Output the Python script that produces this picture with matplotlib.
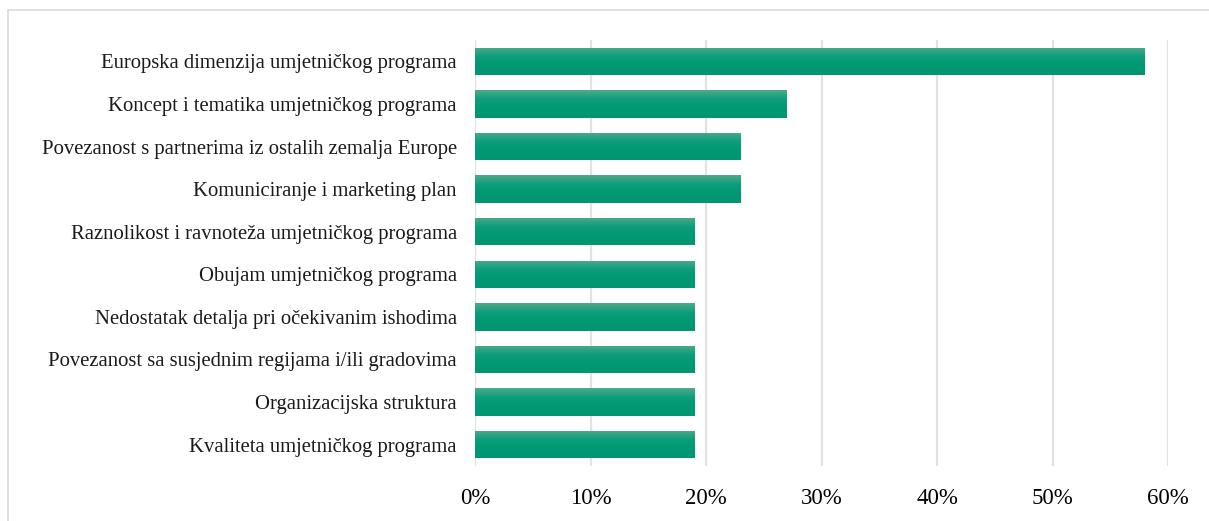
import numpy as np
import matplotlib
matplotlib.use("Agg")
import matplotlib.pyplot as plt
from matplotlib.colors import LinearSegmentedColormap
from matplotlib.patches import Rectangle

# podaci (odozdo prema gore)
kategorije = [
    "Kvaliteta umjetničkog programa",
    "Organizacijska struktura",
    "Povezanost sa susjednim regijama i/ili gradovima",
    "Nedostatak detalja pri očekivanim ishodima",
    "Obujam umjetničkog programa",
    "Raznolikost i ravnoteža umjetničkog programa",
    "Komuniciranje i marketing plan",
    "Povezanost s partnerima iz ostalih zemalja Europe",
    "Koncept i tematika umjetničkog programa",
    "Europska dimenzija umjetničkog programa",
]
vrijednosti = [19, 19, 19, 19, 19, 19, 23, 23, 27, 58]
x_oznake = ["0%", "10%", "20%", "30%", "40%", "50%", "60%"]

plt.rcParams['font.family'] = ['Liberation Serif', 'DejaVu Serif']

fig = plt.figure(figsize=(12.09, 5.21), dpi=100)
ax = fig.add_axes([0.3929, 0.1056, 0.9661 - 0.3929, 0.9232 - 0.1056])

# okvir oko grafikona
fig.patches.append(Rectangle((8 / 1209, -0.05), 1.2, 1 - 10 / 521 + 0.05,
                             transform=fig.transFigure, fill=False,
                             edgecolor="#d9dcdb", linewidth=1.2))

y = np.arange(len(kategorije))
bars = ax.barh(y, vrijednosti, height=0.64, color="#009a76", zorder=2)

# gradijent na stupcima (svjetliji gore)
cmap = LinearSegmentedColormap.from_list("g", ["#4caa8b", "#0c9e7a", "#009874", "#009672"])
grad = np.linspace(0, 1, 64).reshape(-1, 1)
for b in bars:
    x0, y0 = b.get_x(), b.get_y()
    w, h = b.get_width(), b.get_height()
    im = ax.imshow(grad, cmap=cmap, aspect="auto", extent=(x0, x0 + w, y0, y0 + h),
                   origin="upper", zorder=3)
    im.set_clip_path(b)

ax.set_xlim(0, 60)
ax.set_ylim(-0.5, len(kategorije) - 0.5)
ax.set_xticks(range(0, 61, 10))
ax.set_xticklabels(x_oznake, fontsize=16.5)
ax.set_yticks(y)
ax.set_yticklabels(kategorije, fontsize=14.9, color="#1a1a1a")
ax.tick_params(axis="both", length=0)
ax.tick_params(axis="x", pad=16)
ax.tick_params(axis="y", pad=13)
ax.grid(axis="x", color="#dfe3e2", linewidth=1.6, zorder=0)
for s in ax.spines.values():
    s.set_visible(False)

fig.savefig("out.png", dpi=100)
